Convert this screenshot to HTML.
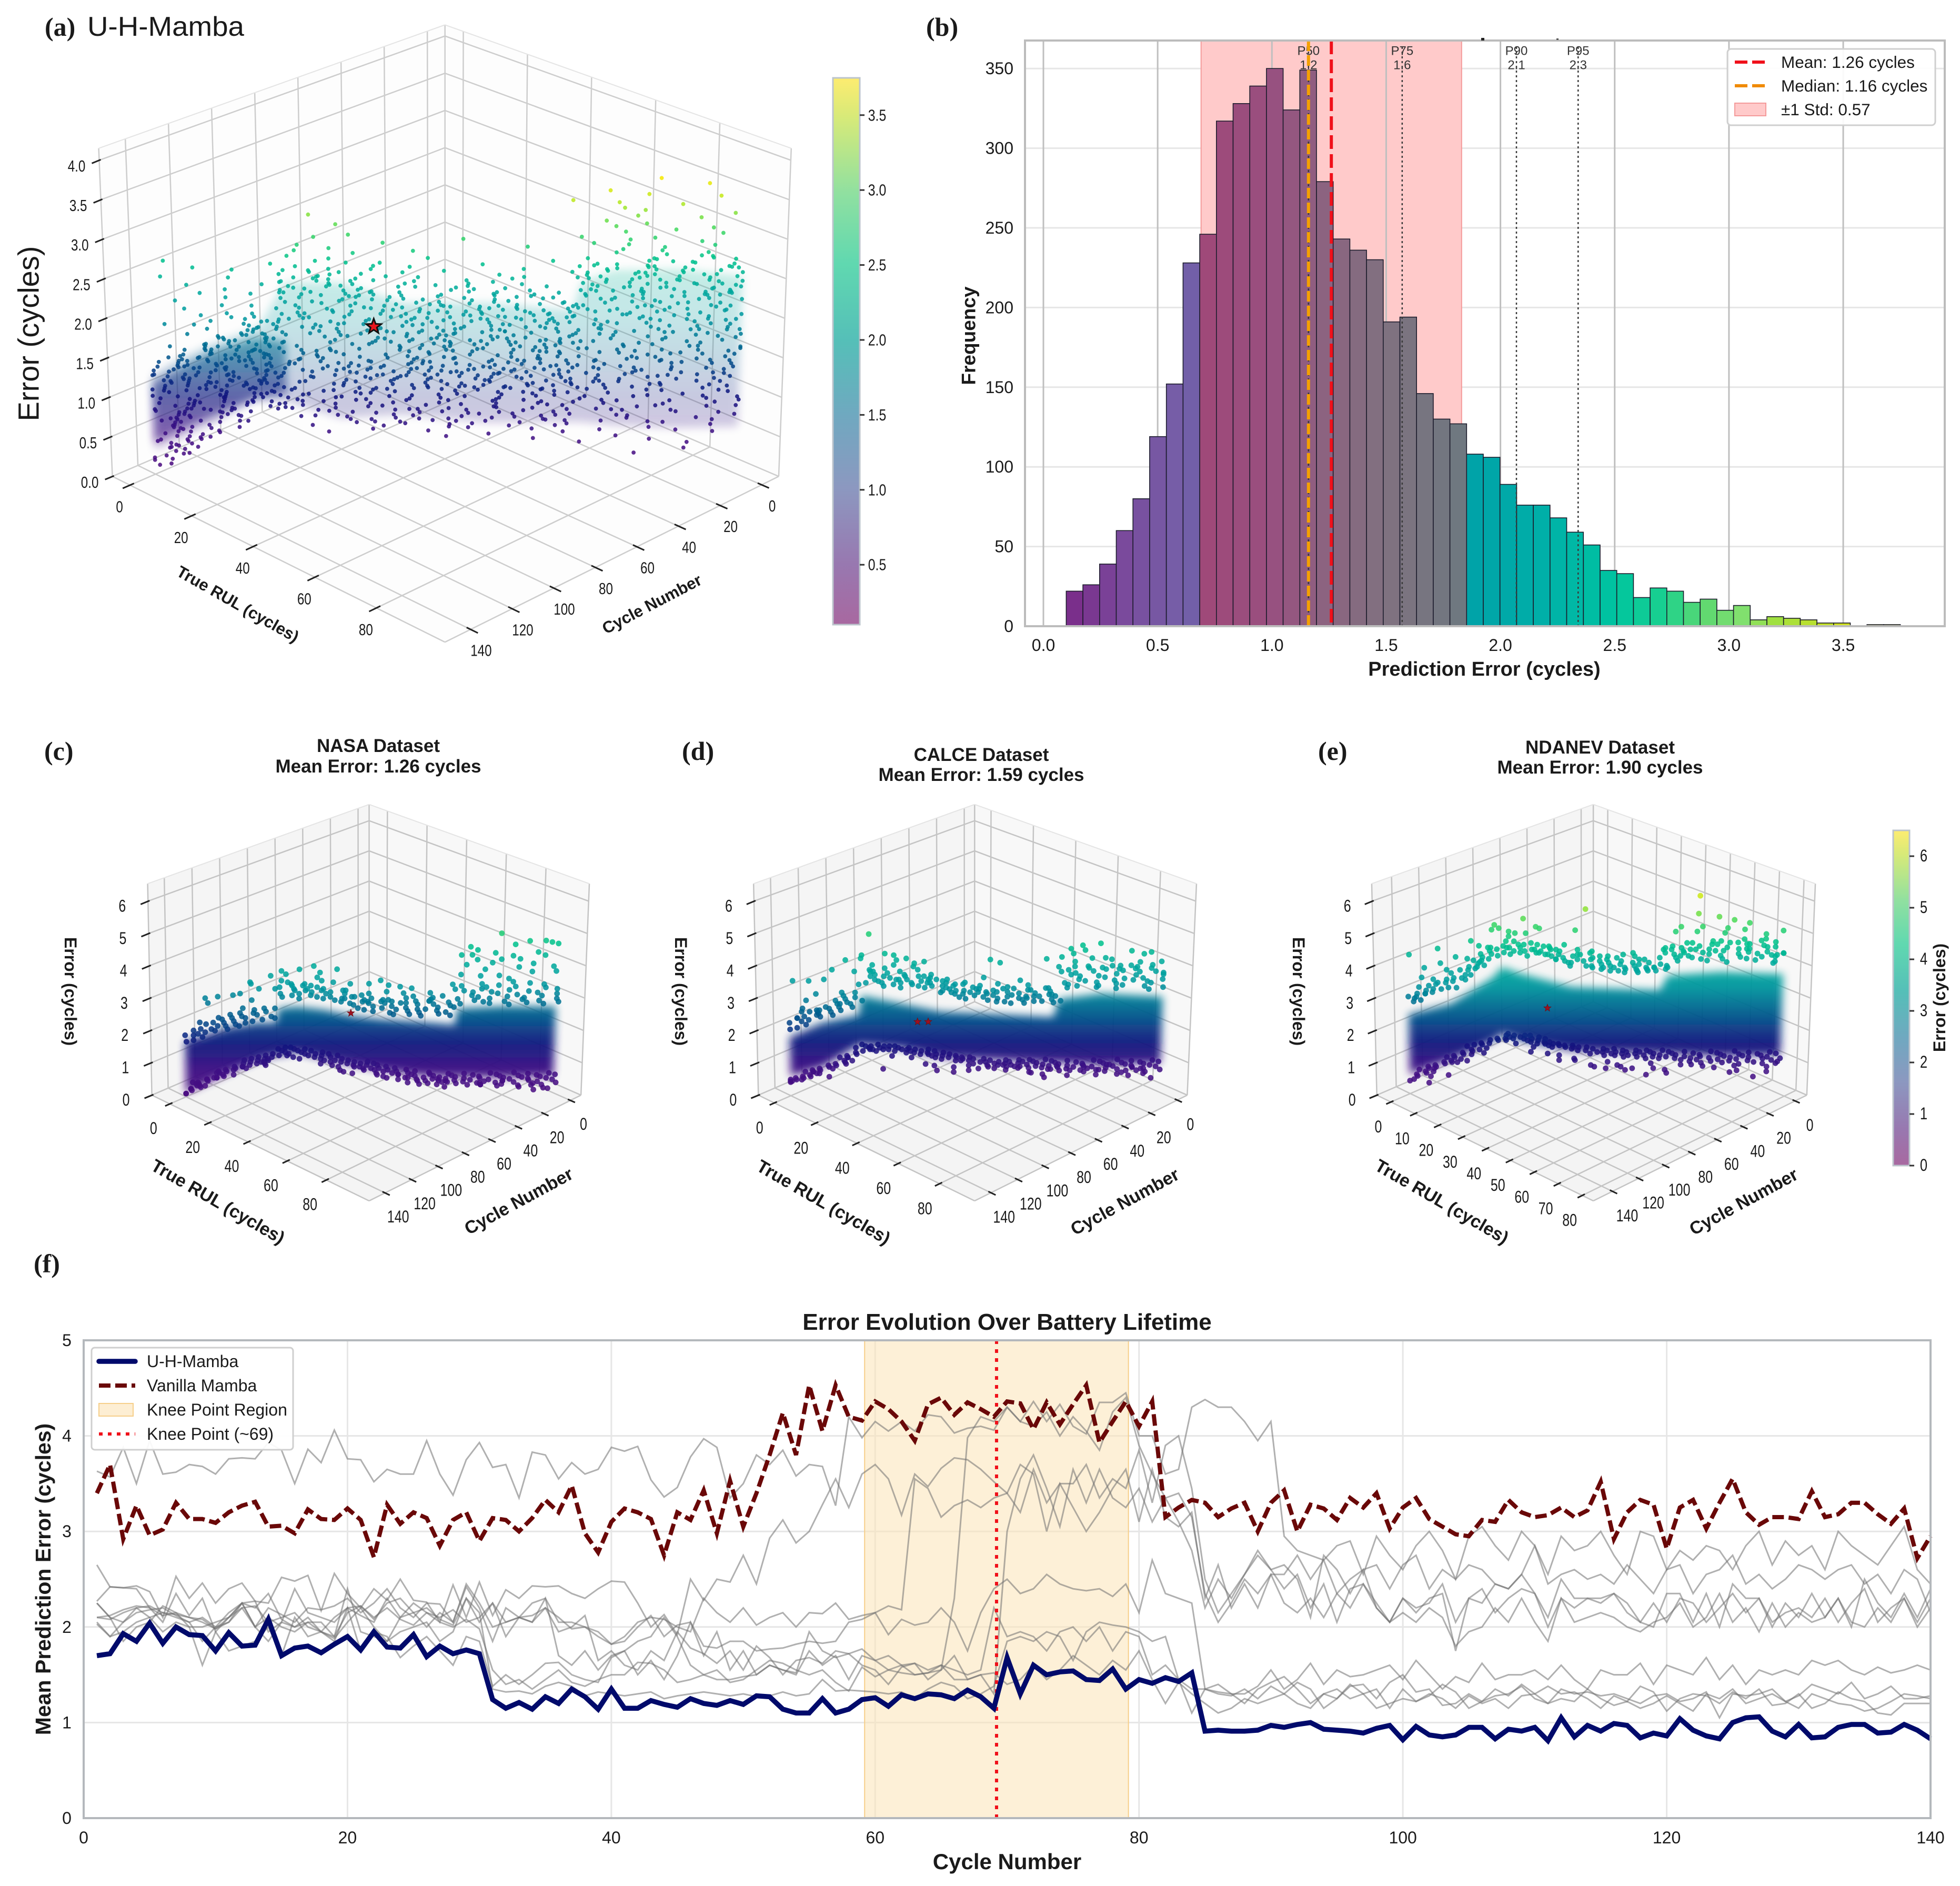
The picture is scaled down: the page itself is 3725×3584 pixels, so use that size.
<!DOCTYPE html>
<html lang="en"><head><meta charset="utf-8"><title>U-H-Mamba error analysis</title>
<style>
html,body{margin:0;padding:0;background:#fff}
svg{display:block}
text{font-family:"Liberation Sans",sans-serif;fill:#1a1a1a}
.ser{font-family:"Liberation Serif",serif;font-weight:bold;font-size:50px}
.bl{font-weight:bold}
</style></head><body>
<svg id="fig" xmlns="http://www.w3.org/2000/svg" width="3725" height="3584" viewBox="0 0 3725 3584">
<defs id="defs">
<filter id="soft" x="-15%" y="-30%" width="130%" height="160%"><feGaussianBlur stdDeviation="8"/></filter>
</defs>
<rect width="3725" height="3584" fill="#fff"/>
<g id="pa">
<text x="85" y="68" class="ser">(a)</text>
<text x="166" y="68" font-size="52" textLength="298" lengthAdjust="spacingAndGlyphs">U-H-Mamba</text>
<text transform="translate(54,634) rotate(-90)" font-size="56" text-anchor="middle" dominant-baseline="central">Error (cycles)</text>
<text transform="translate(452,1148) rotate(29.6)" font-size="31" class="bl" text-anchor="middle" dominant-baseline="central">True RUL (cycles)</text>
<text transform="translate(1239,1148) rotate(-27.6)" font-size="31" class="bl" text-anchor="middle" dominant-baseline="central">Cycle Number</text>
</g>
<g id="pb">
<text x="1760" y="68" class="ser">(b)</text>
<text x="2821" y="1284" font-size="38" class="bl" text-anchor="middle">Prediction Error (cycles)</text>
<text transform="translate(1841,638) rotate(-90)" font-size="37" class="bl" text-anchor="middle" dominant-baseline="central">Frequency</text>
</g>
<g id="pc">
<text x="84" y="1444" class="ser">(c)</text>
<text x="719" y="1429" font-size="35" class="bl" text-anchor="middle">NASA Dataset</text>
<text x="719" y="1468" font-size="35" class="bl" text-anchor="middle">Mean Error: 1.26 cycles</text>
<text transform="translate(134,1884) rotate(90)" font-size="32" class="bl" text-anchor="middle" dominant-baseline="central">Error (cycles)</text>
<text transform="translate(414,2284) rotate(30)" font-size="34" class="bl" text-anchor="middle" dominant-baseline="central">True RUL (cycles)</text>
<text transform="translate(986,2283) rotate(-28.5)" font-size="34" class="bl" text-anchor="middle" dominant-baseline="central">Cycle Number</text>
</g>
<g id="pd">
<text x="1296" y="1444" class="ser">(d)</text>
<text x="1865" y="1446" font-size="35" class="bl" text-anchor="middle">CALCE Dataset</text>
<text x="1865" y="1484" font-size="35" class="bl" text-anchor="middle">Mean Error: 1.59 cycles</text>
<text transform="translate(1294,1884) rotate(90)" font-size="32" class="bl" text-anchor="middle" dominant-baseline="central">Error (cycles)</text>
<text transform="translate(1565,2285) rotate(30)" font-size="34" class="bl" text-anchor="middle" dominant-baseline="central">True RUL (cycles)</text>
<text transform="translate(2138,2284) rotate(-28.5)" font-size="34" class="bl" text-anchor="middle" dominant-baseline="central">Cycle Number</text>
</g>
<g id="pe">
<text x="2505" y="1444" class="ser">(e)</text>
<text x="3041" y="1432" font-size="35" class="bl" text-anchor="middle">NDANEV Dataset</text>
<text x="3041" y="1470" font-size="35" class="bl" text-anchor="middle">Mean Error: 1.90 cycles</text>
<text transform="translate(2468,1884) rotate(90)" font-size="32" class="bl" text-anchor="middle" dominant-baseline="central">Error (cycles)</text>
<text transform="translate(2740,2284) rotate(30)" font-size="34" class="bl" text-anchor="middle" dominant-baseline="central">True RUL (cycles)</text>
<text transform="translate(3314,2284) rotate(-28.5)" font-size="34" class="bl" text-anchor="middle" dominant-baseline="central">Cycle Number</text>
<text transform="translate(3686,1896) rotate(-90)" font-size="32" class="bl" text-anchor="middle" dominant-baseline="central">Error (cycles)</text>
</g>
<g id="pf">
<text x="64" y="2418" class="ser">(f)</text>
<text x="1914" y="2527" font-size="44" class="bl" text-anchor="middle">Error Evolution Over Battery Lifetime</text>
<text x="1914" y="3552" font-size="42" class="bl" text-anchor="middle">Cycle Number</text>
<text transform="translate(82,3001) rotate(-90)" font-size="41" class="bl" text-anchor="middle" dominant-baseline="central">Mean Prediction Error (cycles)</text>
</g>
</svg>
<script>
/* ===== Panel (a) scatter: errors read per cycle, index = cycle number ===== */
const aErrByCycle=[
[.98,1.52,1.9,2.21,2.55],[1.12,1.44,1.73,2.3,2.62],[.76,1.28,1.95,2.41,2.72],[1.33,1.61,2.08,2.5,3.05],[.64,1.4,1.86,2.27,2.66],[1.05,1.7,2.14,2.49,3.3],[.55,1.22,1.79,2.35,2.81],[.92,1.58,2,2.58,3.52],[1.18,1.47,2.22,2.68,3.12],[.7,1.35,1.91,2.44,2.9],
[1,1.63,2.05,2.53,3.68],[.42,1.27,1.84,2.31,2.77],[1.1,1.55,2.17,2.62,3.25],[.83,1.42,1.97,2.46,2.95],[.58,1.3,2.1,2.56,3.42],[1.22,1.74,2.26,2.7,3.1],[.35,1.15,1.81,2.38,2.84],[.95,1.5,2.02,2.6,3.75],[1.27,1.66,2.19,2.47,3],[.68,1.37,1.93,2.52,2.88],
[1.08,1.59,2.12,2.65,3.35],[.47,1.25,1.76,2.33,2.79],[.88,1.45,2.07,2.57,3.18],[1.16,1.68,2.24,2.74,3.55],[.62,1.33,1.88,2.42,2.92],[1.02,1.53,2.15,2.63,3.08],[.74,1.39,1.99,2.5,3.28],[.3,1.2,1.83,2.36,2.86],[1.13,1.6,2.09,2.55,3.45],[.85,1.48,2.2,2.67,2.98],
[.52,1.29,1.95,2.44,3.15],[1.06,1.56,2.04,2.59,3.38],[.78,1.36,1.87,2.48,2.82],[1.2,1.71,2.23,2.61,3.6],[.6,1.31,1.92,2.4,2.94],[.97,1.46,2.11,2.54,3.22],[.45,1.24,1.8,2.34,2.75],[1.11,1.62,2.16,2.66,3.02],[.8,1.41,2.03,2.51,3.48],
[.72,1.26,1.62,1.95,2.36],[.95,1.38,1.74,2.08,2.28],[.58,1.19,1.66,2.02,2.44],[1.04,1.43,1.85,2.15,2.58],[.66,1.3,1.58,1.98,2.32],[.86,1.35,1.77,2.12,2.25],[1.12,1.5,1.9,2.2,2.72],[.74,1.22,1.69,2.05,2.4],[.92,1.4,1.82,1.96,2.3],[.5,1.28,1.6,2.1,2.52],
[1.06,1.47,1.88,2.18,2.35],[.78,1.33,1.72,2.01,2.62],[.98,1.25,1.64,2.14,2.43],[.62,1.36,1.79,2.07,2.27],[1.15,1.52,1.93,2.22,2.9],[.83,1.18,1.7,1.99,2.38],[.7,1.42,1.84,2.11,2.33],[1.01,1.31,1.67,2.03,2.5],[.56,1.23,1.75,2.16,2.46],[.9,1.45,1.86,2.24,2.68],
[1.08,1.37,1.63,2.06,2.29],[.76,1.27,1.78,2.13,2.55],[.94,1.48,1.91,2,2.31],[.64,1.21,1.68,2.09,2.41],[1.14,1.4,1.83,2.19,3],[.81,1.34,1.73,1.97,2.37],[.72,1.29,1.59,2.12,2.48],[1.03,1.44,1.87,2.23,2.34],[.88,1.16,1.71,2.04,2.6],[.53,1.32,1.81,2.17,2.44],
[.98,1.51,1.94,2.08,2.3],[.68,1.26,1.65,2.02,2.39],[1.1,1.39,1.76,2.15,2.76],[.84,1.3,1.89,2.21,2.36],[.75,1.2,1.61,2.1,2.52],[1.05,1.46,1.8,2.01,2.42],[.6,1.35,1.74,2.18,2.28],[.92,1.24,1.69,2.07,2.65],[1.17,1.49,1.92,2.25,2.4],[.79,1.33,1.66,2.14,2.33],
[.87,1.28,1.85,2.03,2.85],[1,1.43,1.78,2.2,2.47],[.71,1.37,1.72,2.11,2.4],[1.12,1.53,1.96,2.27,2.58],[.95,1.22,1.64,2.06,2.44],[.66,1.41,1.83,2.16,2.7],[1.07,1.3,1.9,2.3,2.53],[.82,1.47,1.75,2.1,2.62],[.74,1.25,1.86,2.24,2.48],[.9,1.38,1.7,2.13,2.95],
[1.13,1.52,1.97,2.34,2.66],[.62,1.27,1.81,2.19,2.56],[.98,1.44,1.68,2.29,3.05],[.77,1.33,1.93,2.41,2.7],[1.08,1.58,1.79,2.22,2.5],[.7,1.21,1.87,2.36,2.82],[.93,1.4,2.02,2.47,3.18],[1.16,1.5,1.73,2.28,2.62],[.58,1.35,1.9,2.52,2.75],[1.02,1.62,2.1,2.4,2.88],
[.84,1.29,1.84,2.33,2.6],[1.1,1.46,1.96,2.55,3.02],[.66,1.54,2.06,2.44,2.72],[.96,1.37,1.77,2.3,2.92],[1.2,1.6,2,2.5,2.65],[.78,1.42,1.88,2.38,2.58],[1.05,1.65,2.13,2.6,3.3],[.88,1.31,1.82,2.26,2.78],[.93,1.48,1.98,2.46,2.85],[1.15,1.57,1.74,2.35,2.68],
[1,1.34,1.7,2.05,2.32],[1.1,1.45,1.62,1.92,2.45],[.92,1.28,1.58,1.86,2.2],[1.04,1.41,1.66,1.95,2.55],[.86,1.22,1.54,1.82,2.12],[.96,1.36,1.6,1.9,2.3],[1,1.3,1.72,1.96,2.42],[.82,1.18,1.5,1.84,2.05],[.9,1.26,1.63,1.88,2.6],[.77,1.14,1.46,1.78,2.15],
[.85,1.2,1.56,1.85,2.25],[.7,1.1,1.42,1.74,2],[.8,1.24,1.52,1.8,2.35],[.62,1.06,1.39,1.7,2.05],[.74,1.12,1.48,1.76,2.5],[.55,1,1.33,1.66,1.95],[.68,1.08,1.44,1.72,2.15],[.48,.94,1.3,1.6,2.3],[.6,1.02,1.36,1.65,1.9],[.4,.88,1.24,1.56,2.62],
[.52,.96,1.3,1.58,2.02],[.36,.8,1.18,1.5,1.85],[.46,.9,1.22,1.52,2.4],[.28,.72,1.1,1.44,1.78],[.4,.84,1.16,1.46,2.1],[.24,.66,1.04,1.38,1.9],[.34,.76,1.12,1.42,2.7],[.2,.6,.96,1.3,1.62],[.3,.7,1.06,1.36,2.2],[.14,.52,.9,1.24,1.48],[.12,.44,.82,1.18,2.5]];
const aErrExtra=[
[1.36,1.77,2.33,2.44],[.87,1.59,2.02,2.37],[1.07,1.83,2.17,2.61],[.94,1.49,2.29,2.13],[1.24,1.96,2.39,2.76],[.79,1.56,1.83,2.31],[1.41,2.07,2.46,2.63],[1.14,1.75,2.27,2.53],[.87,1.63,1.97,2.41],[1.29,1.84,2.12,2.74],
[.97,1.45,2.23,2.36],[1.19,1.67,2.03,2.59],[.73,1.53,1.94,2.28],[1.34,1.88,2.42,2.69],[1.03,1.77,2.18,2.51],[.91,1.43,2.09,2.35],[1.26,1.69,2.31,2.58],[.81,1.54,1.89,2.43],[1.17,1.81,2.26,2.73],[1.46,1.98,2.14,2.54],
[.69,1.34,2.01,2.37],[1.09,1.72,2.21,2.64],[.89,1.58,1.96,2.47],[1.31,1.85,2.32,2.56],[1.01,1.49,2.06,2.29],[.77,1.66,2.13,2.71],[1.23,1.93,2.38,2.48],[.96,1.51,1.82,2.25],[1.37,1.74,2.11,2.62],[.84,1.42,2.28,2.39],
[1.12,1.64,2.04,2.52],[.93,1.78,2.19,2.68],[1.28,1.47,1.98,2.34],[.71,1.57,2.24,2.45],[1.16,1.86,2.08,2.57],[.99,1.38,1.91,2.3],[1.21,1.71,2.17,2.65],[.86,1.52,2.35,2.42],[1.07,1.79,2.01,2.5],
[.91,1.17,1.47,1.81,2.13],[1.02,1.33,1.58,1.93],[.83,1.13,1.71,2.19],[.68,1.24,1.52,1.87],[1.09,1.41,1.69,2.06],[.79,1.21,1.63,2],[.96,1.36,1.56,1.83],[1.16,1.44,1.73,2.26],[.88,1.29,1.49,1.94],[.73,1.11,1.67,2.09],
[1.03,1.38,1.59,1.97],[.85,1.19,1.76,2.17],[.94,1.34,1.53,1.89],[.77,1.16,1.65,2.04],[1.08,1.43,1.71,2.28],[.66,1.27,1.57,1.92],[.99,1.31,1.48,1.84],[.81,1.14,1.74,2.12],[1.13,1.39,1.61,2.02],[.72,1.23,1.54,1.95],
[1.05,1.32,1.68,2.21],[.89,1.17,1.46,1.86],[.97,1.42,1.77,2.08],[.69,1.25,1.55,1.99],[1.11,1.36,1.62,1.9],[.82,1.15,1.72,2.15],[.93,1.28,1.5,1.82],[.75,1.37,1.66,2.05],[1.06,1.19,1.6,2.26],[.86,1.33,1.79,1.98],
[.78,1.12,1.52,1.88],[1.01,1.41,1.73,2.16],[.65,1.22,1.58,2.01],[.95,1.35,1.69,1.93],[.83,1.18,1.47,2.09],[1.14,1.44,1.63,1.85],[.73,1.3,1.75,2.24],[1.04,1.16,1.56,1.96],[.87,1.38,1.67,2.06],[.69,1.26,1.51,1.83],
[.98,1.34,1.81,2.12],[.8,1.13,1.59,1.99],[1.09,1.45,1.71,2.29],[.91,1.29,1.55,1.91],[.76,1.39,1.84,2.18],[1.03,1.24,1.61,2.02],[.86,1.51,1.76,2.33],[.99,1.18,1.93,2.23],[.71,1.36,1.68,2.14],[1.11,1.46,1.88,2.38],
[.83,1.29,1.72,2.09],[1.06,1.41,1.99,2.27],[.94,1.23,1.62,2.43],[.74,1.55,1.85,2.16],[1.13,1.32,2.05,2.35],[.88,1.44,1.78,2.24],[1.01,1.19,1.94,2.49],[.79,1.6,2.08,2.31],[.96,1.37,1.83,2.58],[1.09,1.26,1.7,2.19],
[.85,1.52,2.01,2.42],[1.18,1.4,1.92,2.29],[.91,1.33,2.12,2.53],[1.04,1.59,1.81,2.21],[.77,1.27,2.03,2.47],[1.12,1.49,1.89,2.37],[.98,1.35,2.16,2.51],[1.21,1.56,1.79,2.25],[.87,1.43,2.07,2.4],[1.07,1.31,1.95,2.32],
[1.17,1.39,1.66,1.99,1.25],[1.03,1.27,1.74,1.89,1.5],[1.13,1.49,1.55,1.79,1.37],[.95,1.33,1.69,2.01,1.2],[1.08,1.17,1.58,1.87,1.43],[.89,1.47,1.64,1.75,1.12],[1.05,1.24,1.53,1.98,1.39],[.93,1.35,1.69,1.8,1.11],[1,1.43,1.59,1.92,1.21],[.83,1.31,1.51,1.71,1.05],
[.94,1.16,1.63,1.78,1.34],[.76,1.28,1.47,1.69,.99],[.88,1.18,1.59,1.74,1.36],[.7,1.14,1.45,1.63,.92],[.83,1.03,1.53,1.67,1.27],[.64,1.21,1.41,1.58,.86],[.78,.97,1.37,1.63,1.17],[.57,1.09,1.26,1.54,.81],[.69,.91,1.46,1.59,1.14],[.49,1.01,1.18,1.49,.75],
[.61,1.07,1.39,1.53,.84],[.45,.92,1.23,1.44,.67],[.55,.99,1.35,1.48,.77],[.37,.84,1.19,1.36,.58],[.49,.73,1.27,1.41,.94],[.33,.79,1.13,1.33,.55],[.43,.87,1.21,1.37,.63],[.27,.71,1.09,1.26,.49],[.38,.8,1.16,1.31,.59],[.21,.62,.99,1.19,.42],[.18,.35,.68,1.07,1.25]];
const aBandCycles=[140,134,126,116,114,108,95,80,60,40,38,30,15,0];
const aBandLow=[.3,.45,.65,.95,.95,.95,.75,.8,.7,.7,.7,.65,.6,.6];
const aBandHigh=[1.25,1.45,1.65,1.85,1.9,2.45,2.45,2.2,2.2,2.1,2.45,2.6,2.6,2.5];
const aCoreCycles=[140,126,115,108];
const aCoreLow=[.4,.75,1,1.05];
const aCoreHigh=[1.15,1.55,1.75,1.7];
const aWorstCycle=[87];
const aWorstError=[1.9];
const aRulTicks=[0,20,40,60,80];
const cycleTicks=[0,20,40,60,80,100,120,140];
const aErrTicks=[0,.5,1,1.5,2,2.5,3,3.5,4];
const aColorTicks=[.5,1,1.5,2,2.5,3,3.5];

/* ===== Panels (c,d,e) scatter: dense cloud envelope, per-cycle fringe values, outlier cycle/error pairs ===== */
const cBandCycles=[140,124,113,106,105,98,88,77,67,51,39,38,20,1];
const cBandLow=[.12,.75,1.15,1.3,1.3,1.4,1.2,1,.85,.65,.6,.6,.55,.55];
const cBandHigh=[1.7,2.15,2.3,2.3,2.75,2.8,2.7,2.5,2.4,2.3,2.2,2.7,2.75,2.7];
const cFringeTop=[3.1,2.85,3.25,2.95,3.4,3.05,2.8,3.3,3.15,2.9,3.45,3,3.2,2.85,3.35,3.1,2.95,3.5,3.05,2.8,3.25,3.4,2.9,3.15,3,3.35,3.2,2.85,3.45,3.05,2.9,3.3,3.1,3.2,2.95,3.4,3,3.25,2.85,2.75,2.6,2.8,2.5,2.9,2.65,2.75,3,2.55,2.85,2.7,2.6,2.95,2.7,2.5,2.85,2.65,3.05,2.75,2.55,2.9,2.7,2.6,3,2.8,2.55,2.95,2.75,2.9,2.65,3.05,2.8,3,2.7,2.9,3.15,2.75,2.95,3.1,2.85,3.05,2.9,3.2,3,3.3,2.95,3.1,3.35,3.05,3.2,3.4,3.1,3.3,3.45,3.15,3.25,3.5,3.05,3.35,3.2,3.45,3.15,3.3,3.55,3.1,3.35,3.2,2.75,2.45,2.65,2.5,2.75,2.4,2.6,2.7,2.35,2.55,2.3,2.6,2.45,2.25,2.5,2.35,2.2,2.45,2.3,2.1,2.4,2.2,2.3,2.05,2.25,2.1,2,2.3,1.95,2.1,1.85,2.05,1.75,1.9,1.7];
const cFringeLow=[.45,.6,.35,.5,.65,.4,.55,.3,.6,.45,.5,.35,.65,.55,.4,.6,.3,.5,.7,.45,.55,.4,.6,.35,.65,.5,.45,.7,.4,.55,.6,.35,.5,.65,.45,.55,.4,.7,.5,.6,.45,.65,.55,.7,.5,.6,.75,.55,.65,.5,.7,.6,.8,.55,.75,.65,.85,.7,.6,.8,.75,.9,.7,.85,.8,.95,.75,.9,.85,1,.9,1.05,.85,1,1.1,.95,1.05,1.15,1,1.1,1.2,1.05,1.15,1.3,1.1,1.25,1.15,1.35,1.2,1.3,1.4,1.25,1.35,1.5,1.3,1.45,1.35,1.5,1.4,1.55,1.45,1.55,1.35,1.5,1.4,1.3,1.45,1.25,1.35,1.2,1.3,1.15,1.25,1.1,1.2,1.05,1.15,1,1.1,.95,1.05,.9,.95,.8,.85,.75,.8,.65,.7,.6,.6,.5,.55,.4,.45,.35,.3,.35,.2,.25,.1];
const cPairs=[140,.1,139,.25,138,.35,136,.45,135,1.9,134,.4,133,2.9,132,.55,131,3.05,130,2.2,129,.6,128,2.45,127,3.1,126,.75,125,2.55,124,.7,122,3.15,121,.85,120,3.2,119,.95,118,2.75,117,.9,116,3.55,115,3.5,114,1.1,113,3,112,1.05,111,1,110,3.35,108,1.2,107,1.15,106,3.75,105,3.6,104,3.9,103,3.4,102,1.3,101,3.8,100,3.5,99,1.25,98,3.95,97,3.3,96,1.2,95,3.45,94,4.05,93,3.7,92,3.35,91,1.05,90,3.6,89,3.85,88,1.1,87,3.25,86,1,85,3.55,84,3.95,83,.95,82,3.3,81,.85,80,3.05,79,.8,78,3.5,77,.95,76,3.1,75,.75,74,2.95,73,.9,72,3.2,71,3.5,70,.7,69,2.95,68,3.6,67,.65,66,3.25,65,.6,64,3,63,3.45,62,.7,61,2.9,60,.55,59,3.2,58,3.4,57,.6,56,2.95,55,.45,54,3.1,53,3.35,52,.5,51,2.95,50,.4,49,3.2,48,.42,47,.38,46,3.05,45,.55,44,.3,43,3.1,42,.45,41,3.3,40,.48,39,3.45,38,4.35,37,4.05,36,.35,35,3.75,34,4.35,33,4.6,32,3.7,31,.35,30,4.2,29,4.5,28,3.9,27,.4,26,4.4,25,3.7,24,.3,23,4.1,22,5,21,4.2,20,3.6,19,.45,18,4.3,17,4.65,16,3.95,15,.25,14,4.2,13,4.75,12,4.05,11,.3,10,4.4,9,3.8,8,.15,7,4.75,6,4.3,5,.2,4,4.7,3,3.95,2,.18,1,4.65,0,3.8];
const dBandCycles=[140,128,114,113,98,83,60,41,39,23,0];
const dBandLow=[.6,.9,1.6,1.6,1.5,1.2,1.1,1,1,.9,.9];
const dBandHigh=[1.8,2.25,2.5,3.1,2.85,2.6,2.5,2.4,2.95,3.1,2.95];
const dFringeTop=[3.5,3.25,3.7,3.4,3.85,3.45,3.2,3.75,3.55,3.3,3.9,3.5,3.65,3.35,3.8,3.55,3.4,3.95,3.5,3.25,3.7,3.85,3.35,3.6,3.45,3.8,3.65,3.3,3.9,3.5,3.35,3.75,3.55,3.65,3.4,3.85,3.45,3.7,3.3,3.05,2.9,3.1,2.85,3.2,2.95,3.05,3.3,2.9,3.15,3,2.9,3.25,3,2.85,3.15,2.95,3.35,3.05,2.85,3.2,3,2.9,3.3,3.1,2.9,3.25,3.05,3.2,2.95,3.35,3.1,3.3,3,3.2,3.45,3.05,3.25,3.4,3.15,3.35,3.2,3.5,3.3,3.55,3.25,3.4,3.6,3.35,3.5,3.65,3.4,3.55,3.7,3.45,3.5,3.75,3.35,3.6,3.5,3.7,3.45,3.6,3.8,3.4,3.65,3.5,3.75,3.55,3.85,3.6,3.9,3.5,3.7,3.45,3.05,2.95,2.75,3,2.85,2.65,2.9,2.75,2.6,2.85,2.7,2.5,2.75,2.6,2.65,2.45,2.6,2.5,2.35,2.6,2.3,2.45,2.2,2.4,2.1,2.25,2.05];
const dFringeLow=[.8,.95,.7,.85,1,.75,.9,.65,.95,.8,.85,.7,1,.9,.75,.95,.65,.85,1.05,.8,.9,.75,.95,.7,1,.85,.8,1.05,.75,.9,.95,.7,.85,1,.8,.9,.75,1.05,.85,.95,.8,1,.9,1.05,.85,.95,1.1,.9,1,.85,1.05,.95,1.1,.9,1.05,1,1.1,.95,.9,1.05,1,1.1,.95,1.05,1,1.15,.95,1.1,1.05,1.15,1.05,1.2,1,1.15,1.2,1.1,1.2,1.25,1.1,1.2,1.3,1.15,1.25,1.35,1.2,1.3,1.25,1.4,1.3,1.35,1.45,1.3,1.4,1.5,1.35,1.45,1.4,1.5,1.45,1.55,1.45,1.55,1.4,1.55,1.5,1.45,1.6,1.45,1.55,1.4,1.55,1.45,1.6,1.5,1.4,1.3,1.35,1.2,1.25,1.1,1.2,1.05,1.1,.95,1,.9,.95,.8,.85,.75,.8,.7,.75,.6,.65,.55,.6,.5,.55,.45,.5];
const dPairs=[140,.42,139,3.55,138,.45,137,2.4,136,2.95,135,.5,134,2.7,133,3.55,132,.7,131,2.55,130,3.15,129,.75,128,3.6,127,2.65,126,.6,125,2.95,124,3.9,123,.85,122,2.85,121,3.2,120,1,119,3.1,118,4.2,117,1.2,116,3.2,115,3.85,114,4.35,113,4.25,112,1.45,111,4.05,110,5,109,3.85,108,1.5,107,3.7,106,4.4,105,3.95,104,.85,103,4.05,102,4.35,101,1.25,100,3.6,99,4.2,98,3.85,97,1.35,96,4.25,95,4,94,3.7,93,1.2,92,3.9,91,4.1,90,1,89,3.6,88,4.15,87,3.5,86,.95,85,3.75,84,3.2,83,.8,82,3.6,81,3.4,80,1.1,79,3.25,78,.9,77,3.45,76,.75,75,3.15,74,3.5,73,.95,72,3.3,71,.8,70,3.2,69,3.65,68,.85,67,3.4,66,3.15,65,.9,64,4.2,63,3.2,62,.85,61,3.45,60,.95,59,4.1,58,3.3,57,.8,56,3.1,55,.9,54,3.55,53,.85,52,3.25,51,.7,50,3.05,49,3.4,48,.72,47,3.05,46,.65,45,3.3,44,.55,43,4.2,42,3.1,41,.8,40,3.95,39,.9,38,4.25,37,3.8,36,.6,35,4.35,34,3.95,33,4.5,32,.75,31,4.1,30,4.6,29,3.95,28,.85,27,4.45,26,4.2,25,.6,24,4.65,23,3.9,22,.75,21,4.2,20,3.95,19,.9,18,4.15,17,.6,16,3.85,15,.7,14,4.4,13,3.95,12,.55,11,4.05,10,3.85,9,.8,8,4.3,7,.6,6,4.35,5,3.95,4,.75,3,4.05,2,.45,1,3.75,0,3.65];
const eBandCycles=[140,124,108,105,98,79,46,43,23,0];
const eBandLow=[.6,1.1,1.7,1.9,1.7,1.4,1.3,1.3,1.2,1.2];
const eBandHigh=[2.45,2.8,3.65,3.95,3.75,3.35,3.25,3.7,3.8,3.7];
const eFringeTop=[4.35,4.1,4.55,4.25,4.7,4.3,4.05,4.6,4.4,4.15,4.75,4.35,4.5,4.2,4.65,4.4,4.25,4.8,4.35,4.1,4.55,4.7,4.2,4.45,4.3,4.65,4.5,4.15,4.75,4.35,4.2,4.6,4.4,4.5,4.25,4.7,4.3,4.55,4.15,4.4,4.25,4.6,4.35,4.5,3.9,4,4.25,3.85,4.1,3.95,3.85,4.2,3.95,3.8,4.1,3.9,4.3,4,3.8,4.15,3.95,3.85,4.25,4.05,3.85,4.2,4,4.15,3.9,4.3,4.05,4.25,3.95,4.15,4.4,4,4.2,4.35,4.1,4.3,4.15,4.45,4.25,4.5,4.2,4.35,4.55,4.3,4.45,4.6,4.35,4.5,4.65,4.4,4.45,4.7,4.3,4.55,4.45,4.65,4.4,4.55,4.75,4.35,4.6,4.5,4.4,4.3,4.55,4.2,4.35,4.1,4.25,4,4.15,3.95,4.05,3.85,3.95,3.7,3.85,3.6,3.75,3.5,3.6,3.45,3.55,3.3,3.45,3.25,3.35,3.15,3.25,3.1,3.2,3,3.1,2.9,3,2.85,2.95];
const eFringeLow=[1.1,1.25,1,1.15,1.3,1.05,1.2,.95,1.25,1.1,1.15,1,1.3,1.2,1.05,1.25,.95,1.15,1.35,1.1,1.2,1.05,1.25,1,1.3,1.15,1.1,1.35,1.05,1.2,1.25,1,1.15,1.3,1.1,1.2,1.05,1.35,1.15,1.25,1.1,1.3,1.2,1.35,1.15,1.25,1.4,1.2,1.3,1.15,1.35,1.25,1.4,1.2,1.35,1.3,1.4,1.25,1.2,1.35,1.3,1.4,1.25,1.35,1.3,1.45,1.25,1.4,1.35,1.45,1.35,1.5,1.3,1.45,1.5,1.4,1.5,1.55,1.4,1.5,1.55,1.45,1.55,1.6,1.5,1.6,1.55,1.65,1.6,1.65,1.75,1.6,1.7,1.8,1.65,1.75,1.7,1.85,1.75,1.85,1.8,1.9,1.75,1.85,1.8,1.75,1.85,1.7,1.75,1.6,1.7,1.55,1.6,1.45,1.55,1.4,1.5,1.35,1.4,1.25,1.3,1.15,1.2,1.1,1.15,1,1.05,.95,1,.85,.9,.8,.85,.7,.75,.65,.7,.55,.6];
const ePairs=[140,4.3,139,.4,138,3.3,137,.45,136,3.6,135,.35,134,3.9,133,3.1,132,.55,131,3.55,130,4.05,129,.8,128,3.4,127,4.5,126,.6,125,3.85,124,3.3,123,1,122,4.25,121,3.7,120,1.05,119,3.55,118,4.75,117,4.2,116,1.25,115,3.9,114,4.35,113,4.6,112,1.3,111,4.15,110,5.1,109,4.55,108,5.15,107,4.45,106,5.25,105,4.75,104,1.7,103,5.05,102,4.55,101,4.9,100,5,99,1.6,98,5.45,97,4.65,96,5,95,1.35,94,4.4,93,5.15,92,4.5,91,1.5,90,5.2,89,4.35,88,1.3,87,4.6,86,1.1,85,4.5,84,4.2,83,1.25,82,4.65,81,4,80,1.1,79,5.1,78,4.35,77,4.1,76,1.15,75,4.5,74,5.75,73,4,72,.95,71,4.2,70,.9,69,4.45,68,3.95,67,1.05,66,4.3,65,.85,64,3.95,63,4.1,62,.95,61,4.35,60,.9,59,3.9,58,4.4,57,.8,56,4.05,55,.85,54,3.85,53,4.2,52,.65,51,3.9,50,1,49,3.95,48,4.05,47,.85,46,4.4,45,.7,44,3.95,43,4.55,42,.8,41,5.05,40,4.5,39,4.3,38,.95,37,4.7,36,5.2,35,4.45,34,.95,33,5.05,32,6.15,31,4.5,30,5.6,29,.9,28,5.2,27,4.65,26,5.5,25,4.75,24,.85,23,5.15,22,5,21,.7,20,4.45,19,5.4,18,4.7,17,.9,16,5.1,15,4.5,14,.75,13,4.65,12,5.3,11,4.5,10,.55,9,4.8,8,4.25,7,.7,6,4.95,5,4.55,4,.85,3,4.3,2,.95,1,5.05,0,4.35];
const cRulTicks=[0,20,40,60,80];
const dRulTicks=[0,20,40,60,80];
const eRulTicks=[0,10,20,30,40,50,60,70,80];
const zErrTicks=[0,1,2,3,4,5,6];
const eColorTicks=[0,1,2,3,4,5,6];
const starsC=[[78,2.6]];
const starsD=[[92,2.3],[88,2.3]];
const starsE=[[88,2.7]];

/* ===== Panel (b) histogram ===== */
const histStart=[.1];
const histBinWidth=[.073];
const histValues=[22,26,39,60,80,119,152,228,246,317,328,339,350,324,349,279,243,236,230,191,194,146,130,127,108,106,89,76,76,68,59,51,35,33,18,24,22,15,17,10,13,4,6,5,4,2,2,0,1,1];
const histXTicks=[0,.5,1,1.5,2,2.5,3,3.5];
const histYTicks=[0,50,100,150,200,250,300,350];
const histMean=[1.26];
const histMedian=[1.16];
const histStd=[.57];
const percentileNames=['P50','P75','P90','P95'];
const percentileValues=[1.16,1.57,2.07,2.34];
const percentileLabels=['1.2','1.6','2.1','2.3'];

/* ===== Panel (f) line chart: values for cycles 1..140 ===== */
const uhMamba=[1.7,1.72,1.93,1.85,2.04,1.83,2,1.92,1.91,1.75,1.94,1.8,1.81,2.08,1.7,1.78,1.8,1.73,1.82,1.9,1.76,1.95,1.79,1.78,1.92,1.69,1.8,1.72,1.76,1.72,1.24,1.15,1.21,1.14,1.27,1.2,1.35,1.27,1.14,1.35,1.15,1.15,1.23,1.19,1.16,1.25,1.2,1.18,1.23,1.19,1.28,1.27,1.14,1.1,1.1,1.25,1.1,1.14,1.24,1.26,1.17,1.29,1.25,1.3,1.29,1.25,1.34,1.27,1.15,1.68,1.3,1.6,1.5,1.53,1.54,1.45,1.44,1.56,1.35,1.45,1.41,1.47,1.43,1.52,.91,.92,.91,.91,.92,.97,.95,.98,1,.93,.92,.91,.89,.94,.97,.82,.96,.87,.85,.87,.95,.95,.83,.93,.91,.95,.81,1.05,.85,.97,.91,.99,.97,.84,.89,.86,1.04,.92,.86,.83,1,1.05,1.06,.91,.85,.98,.84,.85,.95,.98,.98,.89,.9,.98,.92,.83];
const vanillaMamba=[3.4,3.7,2.92,3.27,2.96,3.02,3.3,3.13,3.13,3.09,3.2,3.27,3.31,3.05,3.06,2.98,3.23,3.13,3.12,3.24,3.12,2.73,3.28,3.08,3.2,3.14,2.85,3.12,3.2,2.9,3.14,3.12,3,3.14,3.33,3.2,3.48,2.98,2.78,3.1,3.24,3.2,3.13,2.75,3.2,3.12,3.43,2.98,3.53,3.05,3.4,3.8,4.24,3.8,4.53,4.05,4.53,4.2,4.16,4.36,4.28,4.15,3.95,4.33,4.4,4.22,4.35,4.28,4.2,4.36,4.34,4.07,4.35,4.12,4.33,4.53,3.93,4.15,4.36,4.1,4.36,3.15,3.25,3.33,3.3,3.15,3.24,3.3,3,3.3,3.43,3,3.28,3.24,3.12,3.35,3.25,3.4,3.03,3.25,3.35,3.13,3.05,2.97,2.95,3.12,3.1,3.33,3.2,3.15,3.17,3.25,3.15,3.22,3.52,2.92,3.2,3.33,3.28,2.82,3.25,3.33,3.03,3.3,3.55,3.2,3.07,3.15,3.15,3.13,3.42,3.15,3.18,3.3,3.3,3.18,3.08,3.24,2.72,2.95];
const batteryA=[3.63,3.57,3.88,3.5,3.95,3.6,3.62,3.7,3.68,3.6,3.76,3.77,3.76,3.93,3.85,3.5,3.86,3.72,4.06,3.76,3.75,3.52,3.65,3.6,3.6,3.95,3.6,3.38,3.75,3.93,3.67,3.7,3.35,3.83,3.8,3.55,3.72,3.6,3.65,3.88,3.84,3.89,3.54,3.36,3.46,3.78,3.97,3.88,3.35,3.5,3.8,3.7,3.85,3.58,3.7,3.68,3.27,4.2,3.98,4.15,4.05,4.15,4.05,4.22,4.2,4.03,4.08,4.1,4.06,4.3,4.15,4.36,4.15,4.33,4.1,4.02,4.35,4.35,4.45,4,4,3.6,3.65,4.3,4.38,4.3,4.3,4.15,3.95,4.15,2.95,2.8,2.75,2.7,2.85,2.9,2.55,2.95,2.75,2.6,2.85,3,2.8,2.5,2.95,3.05,2.85,2.7,3,2.85,2.55,2.95,2.8,2.85,3,2.75,2.55,3,2.95,2.6,2.8,2.7,2.85,2.8,2.6,2.85,3,2.65,2.9,2.75,2.85,2.6,3,2.85,2.75,2.65,2.85,3.05,2.6,2.45];
const batteryB=[2.27,2.42,2.41,2.43,2.37,2.1,2.53,2.3,2.46,2.25,2.4,2.46,2.27,2.25,2.52,2.48,2.54,2.17,2.56,2.35,2.2,2.4,2.28,2.5,2.28,2.26,2.05,2.44,2.1,2.47,2.12,2.39,2.3,2.43,2.42,2.43,2.35,2.3,2.4,2.48,2.47,2.25,2,2.13,1.92,2.5,2.28,2.5,2.47,2.75,2.45,2.93,3.12,2.88,3,3.28,3.55,3.25,3.6,3.7,3.55,3.17,3.6,3.47,3.66,3.77,3.75,3.65,3.52,3.4,3.2,3.65,3.3,3.5,3.5,3.7,3.35,3.55,3.45,3.85,3.3,3.9,4,3.45,2.5,2.15,2.35,2.55,2.8,2.6,2.65,2.5,2.1,2.75,2.6,2.35,2.6,2.2,2.05,2.3,2.15,2.3,2.35,1.75,2.3,2.25,2.45,2.4,2.55,2.35,2.1,2.5,2.3,2.3,2.3,2.35,2.25,2.05,2,2.35,2.35,2.05,2.35,2,2.45,2.3,2.3,2,2.25,2.1,2.35,2.1,2.3,2,2.5,2.25,2.1,2.35,2.1,2.4];
const batteryC=[2.65,2.42,2.41,2.4,2.2,2.05,2.35,2.12,2.3,1.95,2.1,2.25,2,2.2,2.13,2.05,2.2,2.18,2.22,2.3,2.15,2.25,2.4,2.2,2.1,2.25,2.24,2.05,2.42,2.2,1.85,2.2,2.1,2.25,2.3,2.05,2.05,2,1.9,1.82,1.85,2,2.12,1.9,2.02,2.05,1.8,1.78,1.85,1.85,1.75,1.77,1.78,1.82,1.85,1.83,1.85,2.05,2.08,2.15,2.22,2.18,3.55,3.45,3.15,3.27,3.33,3.25,3.35,3.4,3.7,3.6,3,3.5,3.25,3,3.2,3.45,3.65,3.1,3.65,3.15,3.05,3.2,2.3,2.65,2.2,2.45,2.2,2.55,2.55,2.75,2.5,2.7,2.35,2.5,2.6,2.65,2.4,2.65,2.75,2.4,2.6,2.5,2.65,2.6,2.45,2.4,2.55,2.85,2.45,2.55,2.6,2.5,2.55,2.45,2.65,2.5,2.35,2.6,2.65,2.35,2.55,2.6,2.75,2.45,2.55,2.4,2.5,2.65,2.6,2.5,2.6,2.65,2.45,2.55,2.35,2.6,2.5,2.15];
const batteryD=[2.1,2.08,2.15,2.2,2.22,2.15,2.13,2.1,2.05,1.98,2.05,2.2,2.22,2.05,2.1,2.15,2,1.95,2.1,2.2,2.22,2.1,2.2,2.08,2.02,2.15,2.1,2.18,2.05,2.1,2.25,1.9,2.1,2.05,2.3,1.7,1.6,1.75,1.55,1.7,1.75,1.5,1.65,1.45,1.7,2.05,1.7,1.95,1.55,1.75,1.5,1.6,1.55,1.5,1.75,1.6,1.7,1.45,1.7,1.65,1.7,1.6,1.62,1.45,1.55,2.3,3.98,4.2,4.15,4.3,4.15,4.1,4.25,4,4.2,4.05,3.85,4.25,4.4,3.9,3.6,3.35,3.4,3.15,2.35,2.05,2.25,2.5,2.35,2.55,2.25,2.15,2.3,2.1,2.35,2.2,2.45,2.2,2.05,2.15,2.05,2.2,2.1,1.8,1.95,2,2.2,2.05,2.3,2.05,1.85,2.3,2.05,2.1,2.15,2.1,2,1.95,2.05,2.1,2.25,2,2.1,2.35,2.05,2.2,1.95,2.25,2,2.15,2.05,2.1,2.3,2.05,2,2.2,2.05,2.3,2,2.2];
const batteryE=[2.03,1.9,2.05,2.2,2.1,1.95,2.05,2,1.6,1.95,1.75,1.8,1.85,2,1.7,2.1,1.9,1.95,1.85,2.2,1.75,1.95,1.9,1.68,1.8,1.9,1.75,1.6,1.9,1.85,1.38,1.5,1.4,1.5,1.62,1.63,1.5,1.45,1.42,1.68,1.75,1.85,1.9,2.1,1.9,1.6,1.5,1.45,1.45,1.48,1.5,1.6,1.55,1.52,1.95,1.75,1.68,1.72,1.77,1.65,1.55,1.6,1.5,1.52,1.55,1.7,1.45,1.5,1.3,3,3.55,3.8,3.45,3.05,3.65,3.3,3.65,3.35,3.25,3.45,3.1,3.35,3.1,2.8,2.2,2.5,2.3,2.55,2.75,2.6,2.4,2.55,2.2,2.45,2.05,2.4,2.45,2.25,2.05,2.3,2.2,2.25,2.45,2.05,2.3,2.4,2.15,2.3,2.4,2.35,2,2.3,2.2,2.3,2.25,2.35,2.15,2.05,2.25,2.05,2.3,2.25,2.05,2.2,2.35,2.15,2.3,2.05,2.15,2.2,2.1,2.3,2.05,2.25,2.4,2.05,2.2,2.3,2.05,2.3];
const batteryF=[2.25,2.1,2.05,2.15,2.18,2.2,2.12,2.05,2.1,2,2.15,2.25,2.27,1.95,2.05,2.4,2.15,2.1,2.05,2.2,2.12,2.05,2.3,2.1,2.15,2,2.15,2.05,2.45,2.25,2,2.05,2.1,2.05,2.2,2.1,1.98,2,1.95,1.82,1.9,2.05,2.1,2.08,2,1.95,2.3,2.15,2.05,2.2,2.02,2.1,2.15,2,2.15,2.14,2.25,2.08,2.12,2.15,1.92,2.08,2.02,2.05,2.2,2.05,1.75,2.15,2.4,2.5,2.35,2.4,2.55,2.45,2.4,2.38,2.4,2.32,2.45,2.15,2.7,2.35,2.3,2.25,1.35,1.32,1.3,1.3,1.38,1.55,1.35,1.45,1.62,1.4,1.55,1.48,1.5,1.55,1.6,1.45,1.65,1.5,1.35,1.48,1.42,1.62,1.45,1.5,1.5,1.55,1.45,1.6,1.45,1.35,1.55,1.5,1.5,1.62,1.4,1.6,1.55,1.5,1.68,1.45,1.6,1.4,1.55,1.5,1.55,1.5,1.65,1.6,1.65,1.55,1.5,1.58,1.52,1.55,1.6,1.55];
const batteryG=[2.1,2.12,2.18,2.22,2.2,2.12,2.15,2,2,2.05,2.1,2.25,2.2,2.35,2.08,2,2.05,2.05,1.9,2.15,2.22,2.08,2.25,2.3,2.15,2.2,2.08,2.02,2.3,2.05,2.25,2.05,2.1,2.12,2.2,1.95,2,2.12,1.65,1.75,1.6,1.55,1.75,1.65,1.95,1.78,1.72,1.62,1.75,1.55,1.8,1.68,1.5,1.65,1.68,1.62,1.75,1.72,1.6,1.55,1.4,1.58,1.62,1.55,1.6,1.55,1.5,1.55,2.2,1.9,1.95,1.9,1.75,1.95,2,1.85,2,1.75,1.95,1.9,1.5,1.6,1.45,1.35,1.35,1.4,1.3,1.2,1.35,1.42,1.48,1.35,1.2,1.3,1.25,1.4,1.3,1.35,1.15,1.35,1.22,1.28,1.4,1.32,1.15,1.22,1.28,1.3,1.38,1.25,1.2,1.35,1.3,1.32,1.28,1.3,1.25,1.2,1.28,1.3,1.22,1.25,1.32,1.05,1.3,1.28,1.3,1.35,1.22,1.28,1.4,1.35,1.3,1.42,1.25,1.3,1.38,1.25,1.25,1.28];
const batteryH=[2.05,1.9,1.95,2.05,2.1,2.15,2.1,2.05,1.85,2,2.05,2.25,2,2.1,2,1.95,2.05,1.95,1.88,2.05,2.2,2,1.85,1.95,2,2.05,1.85,1.95,2.3,2.15,1.35,1.32,1.33,1.3,1.38,1.42,1.38,1.28,1.32,1.3,1.28,1.3,1.32,1.25,1.28,1.3,1.32,1.3,1.28,1.3,1.27,1.28,1.32,1.28,1.3,1.45,1.33,1.34,1.33,1.32,1.3,1.32,1.25,1.35,1.42,1.38,1.25,1.3,1.38,1.85,1.9,1.85,1.95,1.9,1.65,1.95,2.05,2.02,2,1.95,1.85,1.9,1.45,1.1,1.35,1.3,1.28,1.35,1.25,1.38,1.3,1.42,1.35,1.15,1.25,1.38,1.4,1.25,1.42,1.5,1.32,1.35,1.18,1.2,1.3,1.22,1.35,1.28,1.4,1.3,1.38,1.3,1.32,1.25,1.15,1.28,1.22,1.38,1.32,1.12,1.25,1.3,1.28,1.2,1.32,1.25,1.35,1.18,1.2,1.3,1.15,1.2,1.32,1.25,1.22,1.1,1.08,1.2,1.2,1.2];
const batteryJ=[2.25,2.1,1.85,2,2.05,2.22,2.15,2.1,2.08,1.98,2.1,2.2,2,1.85,2.05,2,2.1,1.95,1.9,2.4,1.95,1.9,1.85,2.1,2.25,2.15,2.05,2,2.08,1.98,1.55,1.4,1.45,1.35,1.45,1.55,1.42,1.38,1.45,1.5,1.5,1.63,1.62,1.55,1.42,1.45,1.5,1.55,1.42,1.45,1.55,1.65,1.62,1.55,1.5,1.55,1.42,1.33,1.58,1.48,1.55,1.52,1.5,1.52,1.6,1.45,1.45,1.5,1.52,1.4,1.45,1.6,1.45,1.55,1.7,1.6,1.5,1.65,1.55,1.75,1.45,1.2,1.42,1.3,1.2,1.1,1.15,1.25,1.2,1.25,1.3,1.2,1.15,1.3,1.35,1.25,1.3,1.15,1.2,1.25,1.22,1.3,1.25,1.15,1.28,1.2,1.25,1.15,1.28,1.3,1.2,1.25,1.22,1.35,1.25,1.18,1.22,1.15,1.2,1.28,1.2,1.12,1.3,1.25,1.35,1.2,1.25,1.3,1.22,1.15,1.3,1.25,1.2,1.18,1.12,1.15,1.22,1.3,1.28,1.25,1.08,1.05];
const batterySeries=[batteryA,batteryB,batteryC,batteryD,batteryE,batteryF,batteryG,batteryH,batteryJ];
const lineXTicks=[0,20,40,60,80,100,120,140];
const lineYTicks=[0,1,2,3,4,5];
const kneeStart=[59.2];
const kneeEnd=[79.2];
const kneePoint=[69.2];

/* ===== helpers ===== */
const NS='http://www.w3.org/2000/svg';
function add(parent,tag,attrs,name,inter){
  const el=document.createElementNS(NS,tag);
  for(const k in attrs)el.setAttribute(k,attrs[k]);
  
  
  parent.appendChild(el);
  return el;
}
function label(parent,x,y,str,size,name,o){
  o=o||{};
  const sx=o.sx||1;
  const el=add(parent,'text',{transform:`translate(${x},${y}) scale(${sx},1)`,'font-size':size,'text-anchor':o.anchor||'middle','dominant-baseline':'central'},name,false);
  el.textContent=str;
  if(o.fill)el.style.fill=o.fill;
  return el;
}
function line(parent,x1,y1,x2,y2,stroke,w,name,dash){
  const a={x1,y1,x2,y2,stroke,'stroke-width':w};
  if(dash)a['stroke-dasharray']=dash;
  return add(parent,'line',a,name,false);
}
const scatterStops=[[0,'#4b0c80'],[.12,'#3f0f84'],[.25,'#10147e'],[.4,'#00608e'],[.52,'#00989f'],[.62,'#00aa9c'],[.72,'#00c28c'],[.82,'#40d860'],[.92,'#b8e820'],[1,'#f4e800']];
const paleStops=[[0,'#a868a0'],[.11,'#9878b0'],[.25,'#8c98c0'],[.38,'#70a8c0'],[.52,'#55bfb8'],[.66,'#60d8b0'],[.79,'#90e0a0'],[.93,'#d8ea78'],[1,'#fdec70']];
function hex(c){return [1,3,5].map(i=>parseInt(c.substr(i,2),16));}
function cmap(stops,t){
  t=Math.max(0,Math.min(1,t));
  for(let i=1;i<stops.length;i++){
    if(t<=stops[i][0]){
      const f=(t-stops[i-1][0])/(stops[i][0]-stops[i-1][0]),a=hex(stops[i-1][1]),b=hex(stops[i][1]);
      return `rgb(${a.map((v,j)=>Math.round(v+(b[j]-v)*f)).join(',')})`;
    }
  }
  return stops[stops.length-1][1];
}
function gradient(id,stops,y1,y2,x){
  const g=add(document.getElementById('defs'),'linearGradient',{id,gradientUnits:'userSpaceOnUse',x1:x||0,x2:x||0,y1,y2},id,false);
  stops.forEach(s=>{add(g,'stop',{offset:s[0],'stop-color':s[1]},'gradient-stop',false);});
}
function makeGeom(g){
  const m=g.map,z=p=>[m[0]+p[0]*m[2],m[1]+p[1]*m[3]];
  ['A','B','C','D','At','Bt','Ct','Dt'].forEach(k=>{g[k]=z(g[k]);});
  const bil=(D,A,B,C,u,v,i)=>D[i]*(1-u)*(1-v)+A[i]*(1-u)*v+B[i]*u*v+C[i]*u*(1-v);
  g.pt=(u,v,err)=>{
    const f=err/g.zTop;
    return [0,1].map(i=>{
      const a=bil(g.D,g.A,g.B,g.C,u,v,i),b=bil(g.Dt,g.At,g.Bt,g.Ct,u,v,i);
      return a+(b-a)*f;
    });
  };
  g.uOf=r=>g.u0+g.ku*r;
  g.vOf=c=>g.v0+g.kv*c;
  g.rulOf=c=>g.rulSpan*(1-c/140);
  g.data=(c,e)=>g.pt(g.uOf(g.rulOf(c)),g.vOf(c),e);
  return g;
}
function drawFrame(p,g,rulTicks,cycTicks,errTicks,prefix,o){
  const poly=(pts,fill,n)=>add(p,'polygon',{points:pts.map(q=>q.map(v=>v.toFixed(1)).join(',')).join(' '),fill},n,false);
  poly([g.A,g.D,g.Dt,g.At],o.wallL,prefix+'-left-wall');
  poly([g.D,g.C,g.Ct,g.Dt],o.wallR,prefix+'-right-wall');
  poly([g.A,g.D,g.C,g.B],o.floor,prefix+'-floor');
  const gl=(a,b,n)=>line(p,a[0],a[1],b[0],b[1],o.grid,o.gw,n);
  errTicks.forEach(e=>{
    gl(g.pt(0,1,e),g.pt(0,0,e),prefix+'-left-wall-gridline');
    gl(g.pt(0,0,e),g.pt(1,0,e),prefix+'-right-wall-gridline');
  });
  cycTicks.forEach(c=>{
    const v=g.vOf(c);
    gl(g.pt(0,v,0),g.pt(0,v,g.zTop),prefix+'-cycle-wall-gridline');
    gl(g.pt(0,v,0),g.pt(1,v,0),prefix+'-cycle-floor-gridline');
  });
  rulTicks.forEach(r=>{
    const u=g.uOf(r);
    gl(g.pt(u,0,0),g.pt(u,0,g.zTop),prefix+'-rul-wall-gridline');
    gl(g.pt(u,0,0),g.pt(u,1,0),prefix+'-rul-floor-gridline');
  });
  [[g.A,g.At],[g.C,g.Ct],[g.D,g.Dt]].forEach(e=>gl(e[0],e[1],prefix+'-pane-edge'));
  [[g.At,g.Dt],[g.Dt,g.Ct]].forEach(e=>line(p,e[0][0],e[0][1],e[1][0],e[1][1],'#e4e4e4',2,prefix+'-pane-top-edge'));
  [[g.A,g.B],[g.B,g.C]].forEach(e=>gl(e[0],e[1],prefix+'-floor-edge'));
  rulTicks.forEach(r=>{
    const u=g.uOf(r),a=g.pt(u,1-.012,0),b=g.pt(u,1+.022,0);
    line(p,a[0],a[1],b[0],b[1],'#222',3,prefix+'-rul-tick');
    const q=g.pt(u,1,0);
    label(p,q[0]+o.rulOff[0],q[1]+o.rulOff[1],String(r),o.ts,prefix+'-rul-tick-label',{sx:o.tsx});
  });
  cycTicks.forEach(c=>{
    const v=g.vOf(c),a=g.pt(1-.012,v,0),b=g.pt(1+.022,v,0);
    line(p,a[0],a[1],b[0],b[1],'#222',3,prefix+'-cycle-tick');
    const q=g.pt(1,v,0);
    label(p,q[0]+o.cycOff[0],q[1]+o.cycOff[1],String(c),o.ts,prefix+'-cycle-tick-label',{sx:o.tsx});
  });
  errTicks.forEach(e=>{
    const q=g.pt(0,1,e);
    line(p,q[0]-14,q[1]+6,q[0]+3,q[1]-1,'#222',3,prefix+'-error-tick');
    label(p,q[0]+o.errOff[0],q[1]+o.errOff[1],o.fmt(e),o.ts,prefix+'-error-tick-label',{sx:o.tsx});
  });
}
function band(p,g,cyc,low,high,fill,op,name){
  const pts=[];
  cyc.forEach((c,i)=>pts.push(g.data(c,low[i])));
  for(let i=cyc.length-1;i>=0;i--)pts.push(g.data(cyc[i],high[i]));
  add(p,'polygon',{points:pts.map(q=>q.map(v=>v.toFixed(1)).join(',')).join(' '),fill,opacity:op,filter:'url(#soft)'},name,false);
}
/* strip-plot spread: a point sits a little off its cycle column, by an amount taken from its own error value */
function spread(c,e,J){
  const f=(e*137.3)%1;
  return Math.max(0,Math.min(140,c+(f-.5)*J));
}
function dot(p,g,c,e,r,t,prefix,J){
  const q=g.data(spread(c,e,J),e);
  add(p,'circle',{cx:q[0].toFixed(1),cy:q[1].toFixed(1),r,fill:cmap(scatterStops,t),opacity:.86},prefix+'-scatter-point',false);
}
function starMark(p,g,c,e,R,fill,stroke,sw,name){
  const q=g.data(c,e),pts=[];
  for(let i=0;i<10;i++){
    const a=-Math.PI/2+i*Math.PI/5,r=i%2?R*.42:R;
    pts.push((q[0]+r*Math.cos(a)).toFixed(1)+','+(q[1]+r*Math.sin(a)).toFixed(1));
  }
  add(p,'polygon',{points:pts.join(' '),fill,stroke,'stroke-width':sw},name,false);
}
function colorbar(p,x,y,w,h,stops,id,ticks,yOf,fmt,labelX,size,sx,name){
  gradient(id,stops.map(s=>[s[0],s[1]]),y+h,y,x);
  add(p,'rect',{x,y,width:w,height:h,fill:`url(#${id})`,stroke:'#bcc4cc','stroke-width':3},name,false);
  ticks.forEach(t=>{
    const ty=yOf(t);
    line(p,x+w,ty,x+w+9,ty,'#333',3,name+'-tick');
    label(p,labelX,ty,fmt(t),size,name+'-tick-label',{sx});
  });
}

/* ===== panel a ===== */
(function(){
  const p=document.getElementById('pa');
  const g=makeGeom({map:[0,0,1.0842,.829],D:[780,765],A:[197,1092],B:[780,1472],C:[1365,1092],Dt:[780,57],At:[173,340],Bt:[780,640],Ct:[1387,340],zTop:4.15,u0:.053,ku:.00926,v0:.051,kv:.00623,rulSpan:94});
  drawFrame(p,g,aRulTicks,cycleTicks,aErrTicks,'panel-a',{wallL:'#fdfdfd',wallR:'#fdfdfd',floor:'#fdfdfd',grid:'#cdcdcd',gw:2.5,rulOff:[-20,41],cycOff:[20,40],errOff:[-43,11],ts:31,tsx:.78,fmt:e=>e.toFixed(1)});
  const norm=e=>(e-.1)/3.65;
  const y0=g.data(70,.1)[1],y1=g.data(70,3.75)[1];
  gradient('gradA',scatterStops,y0,y1);
  band(p,g,aBandCycles,aBandLow,aBandHigh,'url(#gradA)',.22,'panel-a-dense-cloud');
  band(p,g,aCoreCycles,aCoreLow,aCoreHigh,'url(#gradA)',.55,'panel-a-dense-core');
  aErrByCycle.forEach((list,c)=>{
    list.forEach(e=>{dot(p,g,c,e,3.9,norm(e),'panel-a',7);});
  });
  aErrExtra.forEach((list,c)=>{
    list.forEach(e=>{dot(p,g,c,e,3.9,norm(e),'panel-a',7);});
  });
  aWorstCycle.forEach((c,i)=>{starMark(p,g,c,aWorstError[i],15,'#e8141c','#111',3,'panel-a-max-error-star');});
  colorbar(p,1583,148,51,1039,paleStops,'cbA',aColorTicks,v=>(1432-(v-.1)/3.65*1254)*.829,v=>v.toFixed(1),1667,31,.8,'colorbar-a');
})();

/* ===== panels c, d, e ===== */
const zNorm=e=>e/6.5;
function panel3d(id,prefix,g,rulTicks,bc,bl,bh,top,low,pairs,stars,o){
  const p=document.getElementById(id);
  makeGeom(g);
  drawFrame(p,g,rulTicks,cycleTicks,zErrTicks,prefix,Object.assign({wallL:'#f5f5f5',wallR:'#f8f8f8',floor:'#f4f4f4',grid:'#c4c4c4',gw:2.5,ts:32,tsx:.78,fmt:e=>String(e)},o));
  const y0=g.data(70,0)[1],y1=g.data(70,6.5)[1];
  gradient(prefix+'-grad',scatterStops,y0,y1);
  band(p,g,bc,bl,bh,`url(#${prefix}-grad)`,.95,prefix+'-dense-cloud');
  top.forEach((e,c)=>{dot(p,g,c,e,5.4,zNorm(e),prefix,5);});
  low.forEach((e,c)=>{dot(p,g,c,e,5.4,zNorm(e),prefix,5);});
  for(let i=0;i<pairs.length;i+=2){
    dot(p,g,pairs[i],pairs[i+1],5.4,zNorm(pairs[i+1]),prefix,5);
  }
  stars.forEach(s=>{starMark(p,g,s[0],s[1],7,'#a01020','#701018',1,prefix+'-max-error-star');});
}
panel3d('pc','panel-c',{map:[0,1380,.7972,.6696],D:[880,782],A:[362,1047],B:[880,1347],C:[1385,1047],Dt:[880,222],At:[352,447],Bt:[880,690],Ct:[1405,447],zTop:6.54,u0:.083,ku:.009,v0:.05,kv:.00625,rulSpan:94},cRulTicks,cBandCycles,cBandLow,cBandHigh,cFringeTop,cFringeLow,cPairs,starsC,{rulOff:[-31,47],cycOff:[25,46],errOff:[-49,10]});
panel3d('pd','panel-d',{map:[1250,1380,.7653,.6696],D:[787,782],A:[250,1047],B:[787,1347],C:[1315,1047],Dt:[787,222],At:[238,447],Bt:[787,690],Ct:[1338,447],zTop:6.54,u0:.074,ku:.00955,v0:.047,kv:.00626,rulSpan:88},dRulTicks,dBandCycles,dBandLow,dBandHigh,dFringeTop,dFringeLow,dPairs,starsD,{rulOff:[-28,48],cycOff:[25,47],errOff:[-48,10]});
panel3d('pe','panel-e',{map:[2450,1380,.8131,.6696],D:[711,782],A:[205,1047],B:[711,1347],C:[1210,1047],Dt:[711,222],At:[193,447],Bt:[711,690],Ct:[1230,447],zTop:6.54,u0:.065,ku:.01105,v0:.055,kv:.00611,rulSpan:77.7},eRulTicks,eBandCycles,eBandLow,eBandHigh,eFringeTop,eFringeLow,ePairs,starsE,{rulOff:[-24,48],cycOff:[28,47],errOff:[-47,10]});
colorbar(document.getElementById('pe'),3598,1578,31,637,paleStops,'cbE',eColorTicks,v=>2215-v/6.5*637-0,v=>String(v),3656,32,.8,'colorbar-e');

/* ===== panel b histogram ===== */
(function(){
  const p=document.getElementById('pb');
  const L=1948,R=3696,T=77,Bt=1190;
  const X=v=>1983+v*434.3, Y=v=>Bt-v*3.028;
  const histStops=[[.1,'#7a2a88'],[.35,'#7a4a9c'],[.6,'#755fa8'],[.69,'#705fa8']];
  const bandStops=[[.69,'#a04878'],[1,'#985080'],[1.25,'#8b6480'],[1.5,'#807280'],[1.83,'#6e7880']];
  const restStops=[[1.83,'#00a0a8'],[2.2,'#00b0a8'],[2.5,'#00c4a0'],[2.7,'#18d090'],[2.9,'#60d870'],[3.05,'#80e070'],[3.2,'#a0e040'],[3.5,'#d0e020'],[3.75,'#e0e020']];
  const barColor=x=>{
    const s=x<.69?histStops:x<1.83?bandStops:restStops;
    return cmap(s.map(q=>[(q[0]-s[0][0])/(s[s.length-1][0]-s[0][0]),q[1]]),(x-s[0][0])/(s[s.length-1][0]-s[0][0]));
  };
  add(p,'rect',{x:L,y:T,width:R-L,height:Bt-T,fill:'#fff'},'histogram-plot-area',false);
  histYTicks.forEach(v=>{
    if(v)line(p,L,Y(v),R,Y(v),'#e6e6e6',3,'histogram-y-gridline');
    label(p,1926,Y(v),String(v),32,'histogram-y-tick-label',{anchor:'end'});
  });
  add(p,'rect',{x:X(histMean[0]-histStd[0]),y:T,width:X(histMean[0]+histStd[0])-X(histMean[0]-histStd[0]),height:Bt-T,fill:'#ffcaca',stroke:'#f49a9a','stroke-width':2},'std-band',false);
  histXTicks.forEach(v=>{
    line(p,X(v),T,X(v),Bt,'#bfbfbf',3,'histogram-x-gridline');
    label(p,X(v),1226,v.toFixed(1),32,'histogram-x-tick-label');
  });
  histValues.forEach((v,i)=>{
    if(!v)return;
    const x0=X(histStart[0]+i*histBinWidth[0]),x1=X(histStart[0]+(i+1)*histBinWidth[0]);
    add(p,'rect',{x:x0.toFixed(1),y:Y(v).toFixed(1),width:(x1-x0).toFixed(1),height:(Bt-Y(v)).toFixed(1),fill:barColor(histStart[0]+(i+.5)*histBinWidth[0]),stroke:'#1c1c2c','stroke-width':1.6},'histogram-bar',false);
  });
  percentileValues.forEach((v,i)=>{
    line(p,X(v),T+12,X(v),Bt,'#3a3a3a',2.5,'percentile-line','4 5');
    label(p,X(v),97,percentileNames[i],24,'percentile-name',{fill:'#333'});
    label(p,X(v),124,percentileLabels[i],24,'percentile-value',{fill:'#333'});
  });
  line(p,X(histMedian[0]),T,X(histMedian[0]),Bt,'#f5a000',6,'median-line','20 8');
  line(p,X(histMean[0]),T,X(histMean[0]),Bt,'#f0101a',6,'mean-line','26 10');
  add(p,'rect',{x:L,y:T,width:R-L,height:Bt-T,fill:'none',stroke:'#bcbcbc','stroke-width':4},'histogram-frame',false);
  add(p,'rect',{x:2815,y:72,width:6,height:5,fill:'#222'},'title-remnant-mark',false);
  add(p,'rect',{x:2958,y:73,width:4,height:3,fill:'#555'},'title-remnant-mark',false);
  const lg=add(p,'g',{},'histogram-legend',false);
  add(lg,'rect',{x:3283,y:93,width:395,height:145,rx:7,fill:'#fff','fill-opacity':.92,stroke:'#cfcfcf','stroke-width':3},'legend-box',false);
  line(lg,3297,118,3356,118,'#f0101a',6,'legend-mean-handle','24 9');
  label(lg,3385,118,'Mean: 1.26 cycles',31.5,'legend-mean-label',{anchor:'start'});
  line(lg,3297,163,3356,163,'#f08a00',6,'legend-median-handle','24 9');
  label(lg,3385,163,'Median: 1.16 cycles',31.5,'legend-median-label',{anchor:'start'});
  add(lg,'rect',{x:3297,y:196,width:59,height:24,fill:'#ffcaca',stroke:'#f49a9a','stroke-width':2},'legend-std-swatch',false);
  label(lg,3385,208,'±1 Std: 0.57',31.5,'legend-std-label',{anchor:'start'});
})();

/* ===== panel f line chart ===== */
(function(){
  const p=document.getElementById('pf');
  const L=159,R=3669,T=2547,Bt=3455;
  const X=v=>L+v*(R-L)/140, Y=v=>Bt-v*(Bt-T)/5;
  lineYTicks.forEach(v=>{
    if(v>0&&v<5)line(p,L,Y(v),R,Y(v),'#e6e6e6',3,'line-chart-y-gridline');
    label(p,127,Y(v),String(v),32,'line-chart-y-tick-label');
  });
  lineXTicks.forEach(v=>{
    if(v>0&&v<140)line(p,X(v),T,X(v),Bt,'#e6e6e6',3,'line-chart-x-gridline');
    label(p,X(v),3492,String(v),32,'line-chart-x-tick-label');
  });
  add(p,'rect',{x:X(kneeStart[0]),y:T,width:X(kneeEnd[0])-X(kneeStart[0]),height:Bt-T,fill:'#fbe3b6','fill-opacity':.55,stroke:'#f6cf8a','stroke-width':2},'knee-point-region',false);
  const path=(arr,stroke,w,name,dash,op)=>{
    const a={d:'M'+arr.slice(0,140).map((v,i)=>X(i+1).toFixed(1)+','+Y(v).toFixed(1)).join('L'),fill:'none',stroke,'stroke-width':w,'stroke-linejoin':'miter'};
    if(dash)a['stroke-dasharray']=dash;
    if(op)a['stroke-opacity']=op;
    return add(p,'path',a,name,false);
  };
  batterySeries.forEach(s=>{path(s,'#707070',3,'battery-trace',null,.55);});
  line(p,X(kneePoint[0]),T,X(kneePoint[0]),Bt,'#f0101a',6,'knee-point-line','7 10');
  path(vanillaMamba,'#6a0808',8,'vanilla-mamba-line','22 9');
  path(uhMamba,'#000a6b',9.5,'uh-mamba-line');
  add(p,'rect',{x:L,y:T,width:R-L,height:Bt-T,fill:'none',stroke:'#b4b8bc','stroke-width':4},'line-chart-frame',false);
  const lg=add(p,'g',{},'line-chart-legend',false);
  add(lg,'rect',{x:174,y:2561,width:383,height:194,rx:6,fill:'#fff','fill-opacity':.92,stroke:'#cfcfcf','stroke-width':3},'legend-box',false);
  line(lg,188,2587,257,2587,'#000a6b',9.5,'legend-uh-mamba-handle').setAttribute('stroke-linecap','round');
  label(lg,279,2587,'U-H-Mamba',32,'legend-uh-mamba-label',{anchor:'start'});
  line(lg,188,2633,257,2633,'#6a0808',8,'legend-vanilla-handle','22 9');
  label(lg,279,2633,'Vanilla Mamba',32,'legend-vanilla-label',{anchor:'start'});
  add(lg,'rect',{x:188,y:2667,width:65,height:24,fill:'#fdeed3',stroke:'#f6cf8a','stroke-width':2},'legend-knee-region-swatch',false);
  label(lg,279,2679,'Knee Point Region',32,'legend-knee-region-label',{anchor:'start'});
  line(lg,188,2725,257,2725,'#f0101a',6,'legend-knee-line-handle','7 10');
  label(lg,279,2725,'Knee Point (~69)',32,'legend-knee-line-label',{anchor:'start'});
})();
</script>
</body></html>
